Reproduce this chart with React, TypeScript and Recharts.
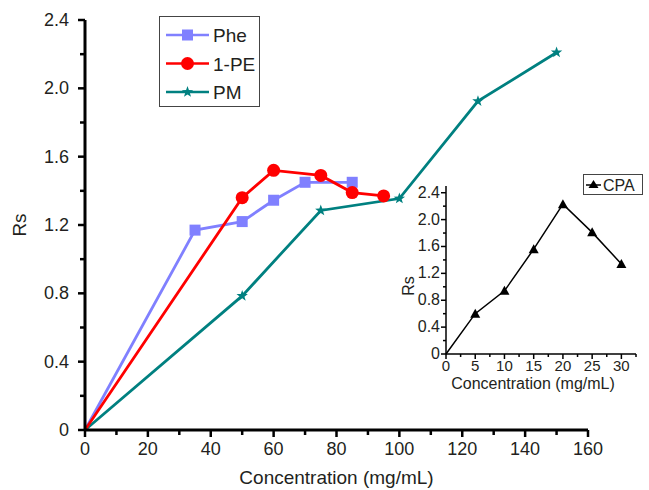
import { LineChart, Line, XAxis, YAxis, Legend } from 'recharts';

// main plot series
const PHE_X = [0, 35, 50, 60, 70, 85];
const PHE_Y = [0, 1.17, 1.22, 1.345, 1.45, 1.45];
const PE_X = [0, 50, 60, 75, 85, 95];
const PE_Y = [0, 1.36, 1.52, 1.49, 1.39, 1.37];
const PM_X = [0, 50, 75, 100, 125, 150];
const PM_Y = [0, 0.785, 1.285, 1.355, 1.925, 2.21];

// inset series
const CPA_X = [0, 5, 10, 15, 20, 25, 30];
const CPA_Y = [0, 0.6, 0.94, 1.56, 2.23, 1.81, 1.34];

const MAIN_X_TICKS = [0, 10, 20, 30, 40, 50, 60, 70, 80, 90, 100, 110, 120, 130, 140, 150, 160];
const MAIN_Y_TICKS = [0, 0.2, 0.4, 0.6, 0.8, 1.0, 1.2, 1.4, 1.6, 1.8, 2.0, 2.2, 2.4];
const INSET_X_TICKS = [0, 2.5, 5, 7.5, 10, 12.5, 15, 17.5, 20, 22.5, 25, 27.5, 30, 32.5];
const INSET_Y_TICKS = [0, 0.2, 0.4, 0.6, 0.8, 1.0, 1.2, 1.4, 1.6, 1.8, 2.0, 2.2, 2.4];

const zip = (xs: number[], ys: number[]) => xs.map((x, i) => ({ x, y: ys[i] }));
const phe = zip(PHE_X, PHE_Y);
const pe = zip(PE_X, PE_Y);
const pm = zip(PM_X, PM_Y);
const cpa = zip(CPA_X, CPA_Y);

const FONT = '"Liberation Sans", Arial, sans-serif';
const TEXT = '#231f20';
const PHE_C = '#8080ff';
const PE_C = '#ff0000';
const PM_C = '#008080';

const fmtY = (v: number) => (v === 0 ? '0' : v.toFixed(1));

const starPoints = (cx: number, cy: number, ro: number, ri: number) => {
  const pts: string[] = [];
  for (let i = 0; i < 10; i++) {
    const r = i % 2 === 0 ? ro : ri;
    const a = -Math.PI / 2 + (i * Math.PI) / 5;
    pts.push(`${cx + r * Math.cos(a)},${cy + r * Math.sin(a)}`);
  }
  return pts.join(' ');
};

const SquareDot = ({ cx, cy, index }: any) =>
  index === 0 ? <g key={index} /> : <rect key={index} x={cx - 5.5} y={cy - 5.5} width={11} height={11} fill={PHE_C} />;
const CircleDot = ({ cx, cy, index }: any) =>
  index === 0 ? <g key={index} /> : <circle key={index} cx={cx} cy={cy} r={6.5} fill={PE_C} />;
const StarDot = ({ cx, cy, index }: any) =>
  index === 0 ? <g key={index} /> : <polygon key={index} points={starPoints(cx, cy, 6, 2.4)} fill={PM_C} />;
const TriDot = ({ cx, cy, index }: any) =>
  index === 0 ? <g key={index} /> : <polygon key={index} points={`${cx},${cy - 5} ${cx - 5},${cy + 4} ${cx + 5},${cy + 4}`} fill="#000" />;

const MainXTick = ({ x, y, payload }: any) => {
  const v = payload.value;
  const major = v % 20 === 0;
  return (
    <g>
      <line x1={x} y1={y} x2={x} y2={y + (major ? 7 : 5)} stroke="#000" strokeWidth={2.5} />
      {major && (
        <text x={x} y={y + 25} textAnchor="middle" fontSize={18} fill={TEXT} fontFamily={FONT}>
          {v}
        </text>
      )}
    </g>
  );
};

const MainYTick = ({ x, y, payload }: any) => {
  const v = payload.value;
  const major = Math.round(v * 10) % 4 === 0;
  return (
    <g>
      <line x1={x} y1={y} x2={x - (major ? 7 : 5)} y2={y} stroke="#000" strokeWidth={2.5} />
      {major && (
        <text x={x - 16} y={y + 6} textAnchor="end" fontSize={18} fill={TEXT} fontFamily={FONT}>
          {fmtY(v)}
        </text>
      )}
    </g>
  );
};

const InsetXTick = ({ x, y, payload }: any) => {
  const v = payload.value;
  const major = v % 5 === 0;
  return (
    <g>
      <line x1={x} y1={y} x2={x} y2={y + (major ? 5 : 3)} stroke="#000" strokeWidth={1.5} />
      {major && (
        <text x={x} y={y + 17} textAnchor="middle" fontSize={15} fill={TEXT} fontFamily={FONT}>
          {v}
        </text>
      )}
    </g>
  );
};

const InsetYTick = ({ x, y, payload }: any) => {
  const v = payload.value;
  const major = Math.round(v * 10) % 4 === 0;
  return (
    <g>
      <line x1={x} y1={y} x2={x - (major ? 5 : 3)} y2={y} stroke="#000" strokeWidth={1.5} />
      {major && (
        <text x={x - 6} y={y + 5} textAnchor="end" fontSize={16} fill={TEXT} fontFamily={FONT}>
          {fmtY(v)}
        </text>
      )}
    </g>
  );
};

const MAIN_LEGEND = [
  { name: 'Phe', color: PHE_C, shape: 'square' },
  { name: '1-PE', color: PE_C, shape: 'circle' },
  { name: 'PM', color: PM_C, shape: 'star' },
];

const MainLegend = () => (
  <div style={{ border: '1px solid #444', width: 101, height: 91, background: '#fff', boxSizing: 'border-box' }}>
    <svg width={99} height={89} style={{ display: 'block' }}>
      {MAIN_LEGEND.map((e, i) => {
        const cy = 18 + i * 28.5;
        return (
          <g key={e.name}>
            <line x1={6} y1={cy} x2={49} y2={cy} stroke={e.color} strokeWidth={2.5} />
            {e.shape === 'square' && <rect x={22} y={cy - 5.5} width={11} height={11} fill={e.color} />}
            {e.shape === 'circle' && <circle cx={27.5} cy={cy} r={6.5} fill={e.color} />}
            {e.shape === 'star' && <polygon points={starPoints(27.5, cy, 6, 2.4)} fill={e.color} />}
            <text x={53} y={cy + 7} fontSize={19} fill={TEXT} fontFamily={FONT}>
              {e.name}
            </text>
          </g>
        );
      })}
    </svg>
  </div>
);

const InsetLegend = () => (
  <div style={{ border: '1px solid #444', width: 60, height: 21, background: '#fff', boxSizing: 'border-box' }}>
    <svg width={58} height={19} style={{ display: 'block' }}>
      <line x1={2} y1={10} x2={17} y2={10} stroke="#000" strokeWidth={1.5} />
      <polygon points="9.5,5 4.5,13 14.5,13" fill="#000" />
      <text x={19} y={16} fontSize={16} fill={TEXT} fontFamily={FONT}>
        CPA
      </text>
    </svg>
  </div>
);

export default function App() {
  return (
    <div style={{ position: 'absolute', left: 0, top: 0, width: 649, height: 490, background: '#fff' }}>
      <LineChart width={649} height={490} margin={{ top: 20, right: 61, bottom: 0, left: 0 }}>
        <XAxis
          type="number"
          dataKey="x"
          domain={[0, 160]}
          ticks={MAIN_X_TICKS}
          interval={0}
          height={60}
          tickSize={0}
          tickMargin={0}
          tick={<MainXTick />}
          axisLine={{ stroke: '#000', strokeWidth: 3 }}
          label={{
            content: ({ viewBox }: any) => (
              <text x={viewBox.x + viewBox.width / 2} y={viewBox.y + 54} textAnchor="middle" fontSize={19} fill={TEXT} fontFamily={FONT}>
                Concentration (mg/mL)
              </text>
            ),
          }}
        />
        <YAxis
          type="number"
          dataKey="y"
          domain={[0, 2.4]}
          ticks={MAIN_Y_TICKS}
          interval={0}
          width={85}
          tickSize={0}
          tickMargin={0}
          tick={<MainYTick />}
          axisLine={{ stroke: '#000', strokeWidth: 3 }}
          label={{
            content: ({ viewBox }: any) => (
              <text
                transform={`translate(${viewBox.x + 26},${viewBox.y + viewBox.height / 2}) rotate(-90)`}
                textAnchor="middle"
                fontSize={19}
                fill={TEXT}
                fontFamily={FONT}
              >
                Rs
              </text>
            ),
          }}
        />
        <Legend
          layout="horizontal"
          verticalAlign="middle"
          align="center"
          content={<MainLegend />}
          wrapperStyle={{ position: 'absolute', left: 159, top: 16, width: 101, height: 91 }}
        />
        <Line data={pm} dataKey="y" name="PM" stroke={PM_C} strokeWidth={2.8} dot={StarDot} isAnimationActive={false} />
        <Line data={phe} dataKey="y" name="Phe" stroke={PHE_C} strokeWidth={2.8} dot={SquareDot} isAnimationActive={false} />
        <Line data={pe} dataKey="y" name="1-PE" stroke={PE_C} strokeWidth={2.8} dot={CircleDot} isAnimationActive={false} />
      </LineChart>

      <div style={{ position: 'absolute', left: 390, top: 170, width: 259, height: 228 }}>
        <LineChart width={259} height={228} margin={{ top: 16, right: 13, bottom: 8, left: 0 }}>
          <XAxis
            type="number"
            dataKey="x"
            domain={[0, 32.5]}
            ticks={INSET_X_TICKS}
            interval={0}
            height={36}
            tickSize={0}
            tickMargin={0}
            tick={<InsetXTick />}
            axisLine={{ stroke: '#000', strokeWidth: 1.5 }}
            label={{
              content: ({ viewBox }: any) => (
                <text x={viewBox.x + viewBox.width / 2 - 8} y={viewBox.y + 35} textAnchor="middle" fontSize={16} fill={TEXT} fontFamily={FONT}>
                  Concentration (mg/mL)
                </text>
              ),
            }}
          />
          <YAxis
            type="number"
            dataKey="y"
            domain={[0, 2.5]}
            ticks={INSET_Y_TICKS}
            interval={0}
            width={56}
            tickSize={0}
            tickMargin={0}
            tick={<InsetYTick />}
            axisLine={{ stroke: '#000', strokeWidth: 1.5 }}
            label={{
              content: ({ viewBox }: any) => (
                <text
                  transform={`translate(${viewBox.x + 24},${viewBox.y + viewBox.height / 2 + 16}) rotate(-90)`}
                  textAnchor="middle"
                  fontSize={16}
                  fill={TEXT}
                  fontFamily={FONT}
                >
                  Rs
                </text>
              ),
            }}
          />
          <Legend
            layout="horizontal"
            verticalAlign="middle"
            align="center"
            content={<InsetLegend />}
            wrapperStyle={{ position: 'absolute', left: 193, top: 4, width: 60, height: 21 }}
          />
          <Line data={cpa} dataKey="y" name="CPA" stroke="#000" strokeWidth={1.5} dot={TriDot} isAnimationActive={false} />
        </LineChart>
      </div>
    </div>
  );
}
